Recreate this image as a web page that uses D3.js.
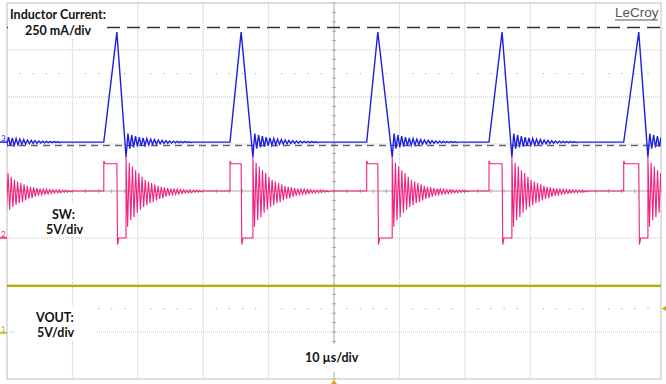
<!DOCTYPE html>
<html>
<head>
<meta charset="utf-8">
<script src="https://cdn.jsdelivr.net/npm/d3@7"></script>
<style>
  html, body { margin: 0; padding: 0; background: #fff; overflow: hidden; }
  svg { display: block; font-family: Lato, "Liberation Sans", sans-serif; }
</style>
</head>
<body>
<svg id="scope" width="666" height="384"></svg>
<script>
// time base: 10 us/div, 10 divisions, times in us from the left edge
const swRise = [-5.2, 14.8, 34.1, 55.0, 73.7, 94.3]
const swFall = [-3.1, 16.8, 35.8, 56.7, 75.7, 96.6]
const swEnd = [-1.8, 18.2, 37.6, 58.9, 77.2, 98.0]

// SW node (V)
const swIdle = 5.0
const swHigh = 7.9
const swHighSpike = 8.2
const swLow = 0.0
const swLowSpike = -0.7
// ringing peaks after the low phase, relative to the idle level
const swRing = [3.6, -3.8, 3.0, -3.1, 2.6, -2.8, 2.2, -2.3, 1.9, -2.0, 1.5, -1.7,
  1.2, -1.5, 1.0, -1.3, 0.85, -1.2, 0.7, -1.0, 0.55, -0.85, 0.45, -0.75, 0.4, -0.6,
  0.3, -0.5, 0.25, -0.4, 0.2, -0.35, 0.18, -0.3, 0.15, -0.25, 0.12, -0.22, 0.1, -0.2,
  0.1, -0.18, 0.08, -0.15, 0.08, -0.12, 0.05, -0.1]
const swRingHalf = 0.245

// inductor current (mA)
const ilPeak = 585
const ilUndershoot = -80
const ilRing = [45, -35, 38, -28, 32, -24, 27, -20, 22, -17, 19, -15, 16, -12, 13, -10,
  11, -9, 9, -7, 8, -6, 6, -5, 5, -4, 4, -3, 3, -3, 3, -2, 2, -2]
const ilRingHalf = 0.29

// VOUT (V)
const voutTimes = [0, 100]
const voutValues = [5.0, 5.0]

// cursors (mA on the current channel)
const cursorLevels = [610, -18]

// per channel: units per division and ground position (divisions from centre)
const CH = {
  il: { perDiv: 250, offset: 1.04, color: "#1f1fe0", label: "3" },
  sw: { perDiv: 5, offset: -1, color: "#f2207f", label: "2" },
  vout: { perDiv: 5, offset: -3.02, color: "#b8ae00", label: "1" },
}

const L = 7, R = 661, T = 3, B = 379
const svg = d3.select("#scope")

const x = d3.scaleLinear().domain([0, 100]).range([L, R])
const yDiv = d3.scaleLinear().domain([-4, 4]).range([B, T])
const yCh = (ch) => (v) => yDiv(v / ch.perDiv + ch.offset)

// ---- graticule ----
const grid = svg.append("g")
d3.range(1, 10).forEach((i) => {
  const gx = x(i * 10)
  if (i === 5) return
  grid.append("line").attr("x1", gx).attr("x2", gx).attr("y1", T).attr("y2", B)
    .attr("stroke", "#c4c4c4").attr("stroke-dasharray", "1,1")
})
d3.range(-3, 4).forEach((d) => {
  if (d === 0) return
  const gy = yDiv(d)
  grid.append("line").attr("x1", L).attr("x2", R).attr("y1", gy).attr("y2", gy)
    .attr("stroke", "#c4c4c4").attr("stroke-dasharray", "1,1")
})
// dotted rows at +/-2.5 div
;[2.5, -2.5].forEach((d) => {
  d3.range(0, 50).forEach((k) => {
    if (k % 5 === 0) return
    grid.append("rect").attr("x", x(k * 2) - 0.5).attr("y", yDiv(d) - 0.5)
      .attr("width", 1.2).attr("height", 1.2).attr("fill", "#b0b0b0")
  })
})
// centre cross with minor ticks
grid.append("line").attr("x1", L).attr("x2", R).attr("y1", yDiv(0)).attr("y2", yDiv(0))
  .attr("stroke", "#a8a8a8")
grid.append("line").attr("x1", x(50)).attr("x2", x(50)).attr("y1", T).attr("y2", B)
  .attr("stroke", "#a8a8a8")
d3.range(0, 51).forEach((k) => {
  const tx = x(k * 2)
  grid.append("line").attr("x1", tx).attr("x2", tx).attr("y1", yDiv(0) - 2).attr("y2", yDiv(0) + 2)
    .attr("stroke", "#a8a8a8")
})
d3.range(0, 41).forEach((k) => {
  const ty = yDiv(-4 + k * 0.2)
  grid.append("line").attr("x1", x(50) - 2).attr("x2", x(50) + 2).attr("y1", ty).attr("y2", ty)
    .attr("stroke", "#a8a8a8")
})
grid.append("rect").attr("x", L).attr("y", T).attr("width", R - L).attr("height", B - T)
  .attr("fill", "none").attr("stroke", "#bdbdbd")

// ---- cursors ----
const yIl = yCh(CH.il)
svg.append("line").attr("x1", L).attr("x2", R).attr("y1", yIl(cursorLevels[0])).attr("y2", yIl(cursorLevels[0]))
  .attr("stroke", "#333").attr("stroke-width", 1.5).attr("stroke-dasharray", "13,7")
svg.append("line").attr("x1", L).attr("x2", R).attr("y1", yIl(cursorLevels[1])).attr("y2", yIl(cursorLevels[1]))
  .attr("stroke", "#666").attr("stroke-width", 1.5).attr("stroke-dasharray", "7,5")

// ---- traces ----
const clip = svg.append("clipPath").attr("id", "plot")
clip.append("rect").attr("x", L).attr("y", T).attr("width", R - L).attr("height", B - T)
const traces = svg.append("g").attr("clip-path", "url(#plot)")

// VOUT
const voutPts = voutTimes.map((t, i) => [t, voutValues[i]])
const yVo = yCh(CH.vout)
traces.append("path")
  .attr("d", d3.line().x((d) => x(d[0])).y((d) => yVo(d[1]))(voutPts))
  .attr("fill", "none").attr("stroke", CH.vout.color).attr("stroke-width", 2.2)

// SW
const swPts = [[-10, swIdle]]
swRise.forEach((tr, i) => {
  swPts.push([tr, swIdle], [tr, swHighSpike], [tr + 0.2, swHigh], [swFall[i], swHigh],
    [swFall[i] + 0.1, swLowSpike], [swFall[i] + 0.3, swLow], [swEnd[i], swLow])
  swRing.forEach((v, k) => swPts.push([swEnd[i] + k * swRingHalf, swIdle + v]))
  swPts.push([swEnd[i] + swRing.length * swRingHalf, swIdle])
})
swPts.push([110, swIdle])
const ySw = yCh(CH.sw)
traces.append("path")
  .attr("d", d3.line().x((d) => x(d[0])).y((d) => ySw(d[1]))(swPts))
  .attr("fill", "none").attr("stroke", CH.sw.color).attr("stroke-width", 1.1)

// inductor current
const ilPts = [[-10, 0]]
swRise.forEach((tr, i) => {
  ilPts.push([tr, 0], [swFall[i], ilPeak], [swEnd[i], ilUndershoot])
  ilRing.forEach((v, k) => ilPts.push([swEnd[i] + (k + 1) * ilRingHalf, v]))
  ilPts.push([swEnd[i] + (ilRing.length + 1) * ilRingHalf, 0])
})
ilPts.push([110, 0])
traces.append("path")
  .attr("d", d3.line().x((d) => x(d[0])).y((d) => yIl(d[1]))(ilPts))
  .attr("fill", "none").attr("stroke", CH.il.color).attr("stroke-width", 1.4)

// ---- annotations ----
const note = (lines, box, xs, ys) => {
  const g = svg.append("g")
  g.append("rect").attr("x", box[0]).attr("y", box[1]).attr("width", box[2]).attr("height", box[3])
    .attr("fill", "#fff")
  lines.forEach((s, i) => {
    g.append("text").attr("x", xs[i]).attr("y", ys[i])
      .attr("font-size", 12.5).attr("font-weight", "bold").attr("fill", "#111").text(s)
  })
}
note(["Inductor Current:", "250 mA/div"], [8, 4, 99, 35], [10, 25], [19, 35])
note(["SW:", "5V/div"], [14, 205, 80, 31], [52, 46], [219, 234])
note(["VOUT:", "5V/div"], [14, 306, 83, 35], [36, 37], [322, 337])
note(["10 \u00b5s/div"], [298, 344, 64, 28], [305], [362])

const brand = svg.append("g")
brand.append("rect").attr("x", 610).attr("y", 4).attr("width", 50).attr("height", 19).attr("fill", "#fff")
brand.append("text").attr("x", 615).attr("y", 17).attr("font-size", 13.5)
  .attr("font-family", "'Liberation Sans', Arial, sans-serif").attr("fill", "#555").text("LeCroy")
brand.append("line").attr("x1", 615).attr("x2", 658).attr("y1", 20).attr("y2", 20)
  .attr("stroke", "#555")

// channel ground markers on the left
Object.values(CH).forEach((ch) => {
  const gy = yDiv(ch.offset)
  svg.append("line").attr("x1", 0).attr("x2", 7).attr("y1", gy).attr("y2", gy)
    .attr("stroke", ch.color).attr("stroke-width", 1.5)
  svg.append("text").attr("x", 1).attr("y", gy - 1).attr("font-size", 8)
    .attr("fill", ch.color).text(ch.label)
})
// trigger level marker (right) and trigger time marker (bottom)
svg.append("path").attr("d", `M${R + 1},${yDiv(-2.5)} l5,-3 v6 z`).attr("fill", CH.vout.color)
svg.append("path").attr("d", `M${x(50)},${B + 1} l-3,4 h6 z`).attr("fill", "#e0a000")
</script>
</body>
</html>
